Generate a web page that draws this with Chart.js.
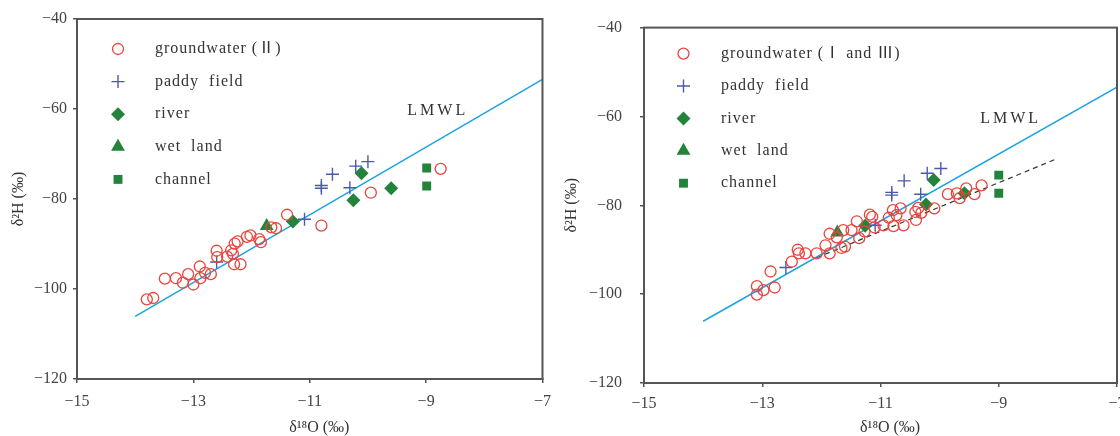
<!DOCTYPE html>
<html>
<head>
<meta charset="utf-8">
<script src="https://cdn.jsdelivr.net/npm/chart.js@4.4.0/dist/chart.umd.min.js"></script>
<style>
  html, body { margin: 0; padding: 0; background: #fff; overflow: hidden; }
  #wrap { position: relative; width: 1120px; height: 436px; overflow: hidden; }
  #leftChart { position: absolute; left: 0; top: 0; }
  #rightChart { position: absolute; left: 560px; top: 0; }
</style>
</head>
<body>
<div id="wrap">
  <canvas id="leftChart" width="560" height="436"></canvas>
  <canvas id="rightChart" width="580" height="436"></canvas>
</div>
<script>
// axis ticks
var xTicks = [-15, -13, -11, -9, -7];
var yTicks = [-120, -100, -80, -60, -40];

// local meteoric water line, and fitted line of groundwater I/III
var lmwl = [[-14, -106.1], [-7, -53.4]];
var fitRight = [[-12.08, -91.8], [-8.05, -69.7]];

// left panel: groundwater II
var gwLeft = [[-13.80,-102.3],[-13.69,-102.0],[-13.49,-97.7],[-13.30,-97.6],[-13.18,-98.6],[-13.09,-96.7],
  [-13.00,-99.0],[-12.89,-95.0],[-12.88,-97.6],[-12.80,-96.4],[-12.70,-96.7],[-12.60,-91.5],[-12.59,-92.9],
  [-12.42,-92.8],[-12.35,-91.4],[-12.32,-92.2],[-12.29,-89.9],[-12.24,-89.4],[-12.30,-94.5],[-12.19,-94.5],
  [-12.08,-88.4],[-12.02,-88.1],[-11.87,-88.9],[-11.84,-89.6],[-11.66,-86.3],[-11.58,-86.5],[-11.39,-83.5],
  [-10.80,-85.9],[-9.95,-78.6],[-8.75,-73.3]];
var paddyLeft = [[-12.60,-94.0],[-11.09,-84.5],[-10.80,-77.0],[-10.80,-77.6],[-10.61,-74.5],[-10.31,-77.5],[-10.21,-72.7],[-10.00,-71.7]];
var riverLeft = [[-11.29,-85.0],[-10.25,-80.3],[-10.11,-74.3],[-9.60,-77.6]];
var wetLeft = [[-11.74,-86.0]];
var channelLeft = [[-8.99,-73.1],[-8.99,-77.1]];

// right panel: groundwater I and III
var gwRight = [[-13.09,-98.2],[-13.09,-100.1],[-12.98,-99.1],[-12.86,-94.9],[-12.79,-98.5],[-12.50,-92.7],
  [-12.40,-90.0],[-12.38,-90.8],[-12.27,-90.8],[-12.08,-90.8],[-11.93,-89.0],[-11.86,-86.4],[-11.86,-90.8],
  [-11.74,-87.2],[-11.66,-89.6],[-11.63,-85.6],[-11.60,-89.3],[-11.49,-85.6],[-11.40,-83.6],[-11.36,-87.4],
  [-11.27,-85.9],[-11.18,-82.1],[-11.14,-82.6],[-11.10,-85.0],[-10.95,-84.5],[-10.86,-82.8],[-10.79,-81.1],
  [-10.78,-84.7],[-10.73,-82.2],[-10.66,-80.7],[-10.61,-84.5],[-10.41,-81.5],[-10.40,-83.3],[-10.36,-80.6],
  [-10.31,-81.7],[-10.09,-80.7],[-9.86,-77.5],[-9.71,-77.3],[-9.66,-78.4],[-9.55,-76.2],[-9.41,-77.5],[-9.29,-75.5]];
var paddyRight = [[-12.60,-94.0],[-11.09,-84.5],[-10.81,-77.1],[-10.81,-77.7],[-10.60,-74.5],[-10.32,-77.5],[-10.21,-72.8],[-9.98,-71.7]];
var riverRight = [[-11.26,-84.6],[-10.23,-79.8],[-10.10,-74.3],[-9.58,-77.3]];
var wetRight = [[-11.73,-86.1]];
var channelRight = [[-9.0,-73.2],[-9.0,-77.3]];

var labelsLeft = ['groundwater (Ⅱ)', 'paddy  field', 'river', 'wet  land', 'channel'];
var labelsRight = ['groundwater (Ⅰ and Ⅲ)', 'paddy  field', 'river', 'wet  land', 'channel'];

var FONT = '"Liberation Serif", "Noto Sans CJK SC", serif';
var RED = '#e8453e', BLUE = '#4c5aaa', GREEN = '#23833a', SKY = '#1ea2e2';

function pts(arr) {
  return arr.map(function (p) { return {x: p[0], y: p[1]}; });
}
function minus(v) {
  return String(v).replace('-', '\u2212');
}

// legend drawn inside the plot box, one row per sample type
var sampleLegend = {
  id: 'sampleLegend',
  afterDraw: function (chart, args, opts) {
    var ctx = chart.ctx, area = chart.chartArea, row = 0;
    ctx.save();
    ctx.font = '16px ' + FONT;
    ctx.letterSpacing = '1px';
    ctx.textBaseline = 'middle';
    chart.data.datasets.forEach(function (ds) {
      if (ds.showLine) return;
      var y = area.top + opts.top + row * opts.rowGap;
      ctx.fillStyle = ds.backgroundColor;
      ctx.strokeStyle = ds.borderColor;
      ctx.lineWidth = ds.borderWidth;
      Chart.helpers.drawPoint(ctx, {pointStyle: ds.pointStyle, radius: ds.pointRadius,
        borderWidth: ds.borderWidth, rotation: 0}, area.left + opts.markerX, y);
      ctx.fillStyle = '#333';
      ctx.fillText(ds.label, area.left + opts.textX, y);
      row++;
    });
    ctx.restore();
  }
};

// box frame and the LMWL tag
var frame = {
  id: 'frame',
  afterDraw: function (chart, args, opts) {
    var ctx = chart.ctx, a = chart.chartArea;
    ctx.save();
    ctx.strokeStyle = '#555';
    ctx.lineWidth = 2;
    ctx.strokeRect(a.left, a.top, a.right - a.left, a.bottom - a.top);
    ctx.font = '16px ' + FONT;
    ctx.letterSpacing = '3px';
    ctx.fillStyle = '#333';
    ctx.textAlign = 'center';
    ctx.textBaseline = 'middle';
    ctx.fillText('LMWL', chart.scales.x.getPixelForValue(opts.tagAt[0]), chart.scales.y.getPixelForValue(opts.tagAt[1]));
    ctx.restore();
  }
};

function buildChart(id, d, box) {
  var datasets = [
    {label: d.labels[0], data: pts(d.gw), pointStyle: 'circle', pointRadius: 5.5, borderWidth: 1.3,
      borderColor: RED, backgroundColor: 'rgba(0,0,0,0)'},
    {label: d.labels[1], data: pts(d.paddy), pointStyle: 'cross', pointRadius: 6.5, borderWidth: 1.4,
      borderColor: BLUE, backgroundColor: BLUE},
    {label: d.labels[2], data: pts(d.river), pointStyle: 'rectRot', pointRadius: 7, borderWidth: 0,
      borderColor: GREEN, backgroundColor: GREEN},
    {label: d.labels[3], data: pts(d.wet), pointStyle: 'triangle', pointRadius: 8, borderWidth: 0,
      borderColor: GREEN, backgroundColor: GREEN},
    {label: d.labels[4], data: pts(d.channel), pointStyle: 'rect', pointRadius: 6.3, borderWidth: 0,
      borderColor: GREEN, backgroundColor: GREEN},
    {label: 'LMWL', data: pts(lmwl), showLine: true, pointRadius: 0, borderColor: SKY, borderWidth: 1.5}
  ];
  if (d.fit) {
    datasets.push({label: 'fit', data: pts(d.fit), showLine: true, pointRadius: 0,
      borderColor: '#333', borderWidth: 1.2, borderDash: [5, 4]});
  }

  return new Chart(document.getElementById(id), {
    type: 'scatter',
    data: {datasets: datasets},
    plugins: [sampleLegend, frame],
    options: {
      responsive: false,
      animation: false,
      events: [],
      layout: {padding: {left: 0, top: box.top, right: box.right, bottom: 0}},
      plugins: {
        legend: {display: false},
        tooltip: {enabled: false},
        sampleLegend: box.legend,
        frame: {tagAt: [-8.8, -60.5]}
      },
      scales: {
        x: {
          type: 'linear', min: -15, max: -7,
          afterBuildTicks: function (s) { s.ticks = xTicks.map(function (v) { return {value: v}; }); },
          afterFit: function (s) { s.height = box.xHeight; },
          border: {display: true, color: '#555', width: 2},
          grid: {drawOnChartArea: false, drawTicks: true, tickLength: 4, color: '#555', lineWidth: 1.5},
          ticks: {color: '#444', font: {family: FONT, size: 16}, padding: box.xPad, maxRotation: 0,
            callback: minus},
          title: {display: true, text: '\u2003\u2009δ¹⁸O (‰)', color: '#333',
            font: {family: FONT, size: 16, lineHeight: 1}, padding: {top: 0, bottom: 0}}
        },
        y: {
          type: 'linear', min: -120, max: -40,
          afterBuildTicks: function (s) { s.ticks = yTicks.map(function (v) { return {value: v}; }); },
          afterFit: function (s) { s.width = box.yWidth; },
          border: {display: true, color: '#555', width: 2},
          grid: {drawOnChartArea: false, drawTicks: true, tickLength: 4, color: '#555', lineWidth: 1.5},
          ticks: {color: '#444', font: {family: FONT, size: 16}, padding: box.yPad, callback: minus},
          title: {display: true, text: 'δ²H (‰)', color: '#333',
            font: {family: FONT, size: 16, lineHeight: 1}, padding: {top: box.yTitle, bottom: 0}}
        }
      }
    }
  });
}

buildChart('leftChart',
  {labels: labelsLeft, gw: gwLeft, paddy: paddyLeft, river: riverLeft, wet: wetLeft, channel: channelLeft},
  {top: 19, right: 15, xHeight: 57, yWidth: 77, xPad: 9, yPad: 6, yTitle: 11,
    legend: {markerX: 41, textX: 78, top: 30, rowGap: 32.6}});

buildChart('rightChart',
  {labels: labelsRight, gw: gwRight, paddy: paddyRight, river: riverRight, wet: wetRight, channel: channelRight,
    fit: fitRight},
  {top: 23, right: 23, xHeight: 53, yWidth: 84, xPad: 7, yPad: 18, yTitle: 3.5,
    legend: {markerX: 39.5, textX: 77, top: 26, rowGap: 32.4}});
</script>
</body>
</html>
